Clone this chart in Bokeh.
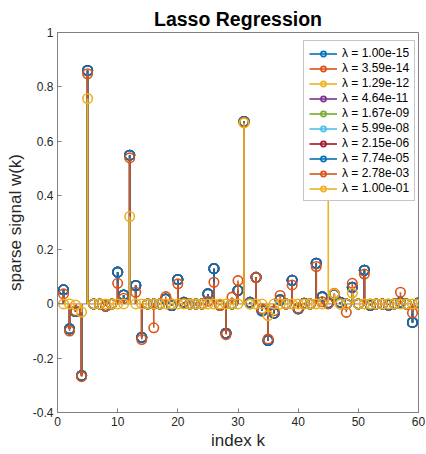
from bokeh.plotting import figure
from bokeh.models import Legend, LegendItem, FixedTicker, Span, Range1d
from bokeh.embed import file_html
from bokeh.resources import INLINE

k = list(range(1, 61))
lambdas = [1.00e-15, 3.59e-14, 1.29e-12, 4.64e-11, 1.67e-09,
           5.99e-08, 2.15e-06, 7.74e-05, 2.78e-03, 1.00e-01]
colors = ["#0072BD", "#D95319", "#EDB120", "#7E2F8E", "#77AC30",
          "#4DBEEE", "#A2142F", "#0072BD", "#D95319", "#EDB120"]

# weights for small lambdas (series 1-8 coincide)
w_small = [0.052, -0.092, -0.028, -0.264, 0.860, 0.0, 0.0, -0.008, 0.0, 0.117,
           0.033, 0.548, 0.068, -0.123, 0.0, 0.0, 0.0, 0.018, -0.006, 0.090,
           0.006, 0.0, 0.0, 0.0, 0.037, 0.130, -0.004, -0.108, 0.0, 0.050,
           0.672, 0.006, 0.098, -0.025, -0.135, -0.034, 0.015, 0.0, 0.087, -0.018,
           0.002, 0.0, 0.150, 0.026, 0.003, 0.035, 0.006, 0.0, 0.061, 0.0,
           0.124, -0.005, 0.0, 0.0, -0.004, 0.0, 0.005, 0.0, -0.068, 0.003]
# lambda = 2.78e-03
w_mid = [0.037, -0.100, -0.025, -0.268, 0.848, 0.0, 0.0, -0.008, 0.0, 0.076,
         0.021, 0.538, 0.043, -0.131, 0.0, -0.088, 0.0, 0.027, 0.0, 0.074,
         0.002, 0.0, 0.0, 0.0, 0.010, 0.080, -0.006, -0.113, 0.025, 0.086,
         0.669, 0.0, 0.097, -0.018, -0.129, -0.025, 0.031, 0.0, 0.070, -0.015,
         0.0, 0.0, 0.138, 0.008, 0.0, 0.039, 0.0, -0.031, 0.076, 0.0,
         0.110, 0.0, 0.0, 0.0, 0.0, 0.0, 0.043, 0.0, -0.033, 0.0]
# lambda = 1.00e-01
w_big = [0.0, 0.0, -0.004, -0.030, 0.757, 0.0, 0.0, 0.0, 0.0, 0.0,
         0.0, 0.322, 0.0, 0.0, 0.0, 0.0, 0.0, 0.0, 0.0, 0.0,
         0.0, 0.0, 0.0, 0.0, 0.0, 0.0, 0.0, 0.0, 0.0, 0.0,
         0.667, 0.0, 0.0, 0.0, -0.043, 0.0, 0.0, 0.0, 0.0, 0.0,
         0.0, 0.0, 0.0, 0.0, 0.480, 0.037, 0.0, 0.0, 0.040, 0.0,
         0.0, 0.0, 0.0, 0.0, 0.0, 0.0, 0.0, 0.0, 0.0, 0.0]

series = [w_small] * 8 + [w_mid, w_big]

x_ticks = [0, 10, 20, 30, 40, 50, 60]
y_ticks = [-0.4, -0.2, 0, 0.2, 0.4, 0.6, 0.8, 1]
y_tick_labels = ["-0.4", "-0.2", "0", "0.2", "0.4", "0.6", "0.8", "1"]

FONT = "Liberation Sans"
AX = "#808080"
TXT = "#262626"

p = figure(width=426, height=454, output_backend="svg", toolbar_location=None,
           x_range=Range1d(0, 60), y_range=Range1d(-0.4, 1),
           frame_width=361, frame_height=380,
           min_border_left=57, min_border_right=8, min_border_top=32, min_border_bottom=42,
           title="Lasso Regression")
p.title.align = "center"
p.title.text_font = FONT
p.title.text_font_size = "19.5px"
p.title.text_font_style = "bold"
p.title.text_color = "#000000"
p.title.offset = 0
p.title.standoff = 5
p.xgrid.visible = False
p.ygrid.visible = False
p.outline_line_color = AX
p.outline_line_width = 1
p.background_fill_color = "white"
p.border_fill_color = "white"

for ax in (p.xaxis[0], p.yaxis[0]):
    ax.axis_line_color = AX
    ax.major_tick_line_color = AX
    ax.minor_tick_line_color = None
    ax.major_tick_in = 4
    ax.major_tick_out = 0
    ax.major_label_text_font = FONT
    ax.major_label_text_font_size = "12px"
    ax.major_label_text_color = TXT
    ax.axis_label_text_font = FONT
    ax.axis_label_text_font_size = "17px"
    ax.axis_label_text_font_style = "normal"
    ax.axis_label_text_color = TXT
    ax.major_label_standoff = 4

p.xaxis.ticker = FixedTicker(ticks=x_ticks)
p.yaxis.ticker = FixedTicker(ticks=y_ticks)
p.yaxis.major_label_overrides = {t: s for t, s in zip(y_ticks, y_tick_labels)}
p.xaxis.axis_label = "index k"
p.yaxis.axis_label = "sparse signal w(k)"
p.xaxis.axis_label_standoff = 2
p.yaxis.axis_label_standoff = 5

baseline = Span(location=0, dimension="width", line_color="#808080", line_width=1, level="underlay")
p.add_layout(baseline)

items = []
for lam, col, w in zip(lambdas, colors, series):
    seg = p.segment(x0=k, y0=[0] * len(k), x1=k, y1=w, line_color=col, line_width=1.6)
    sc = p.scatter(x=k, y=w, marker="circle", size=9.5, fill_color=None,
                   line_color=col, line_width=1.6)
    items.append(LegendItem(label=f"\u03bb = {lam:.2e}", renderers=[seg, sc]))

legend = Legend(items=items, location=(246, 211), margin=0,
                label_text_font=FONT, label_text_font_size="12px", label_text_color="#000000",
                label_height=13, glyph_height=13, glyph_width=28, spacing=1,
                padding=5, label_standoff=5,
                border_line_color="#8c8c8c", border_line_width=1,
                background_fill_color="white", background_fill_alpha=1.0)
p.add_layout(legend)

open("out.html", "w").write(file_html(p, INLINE))
